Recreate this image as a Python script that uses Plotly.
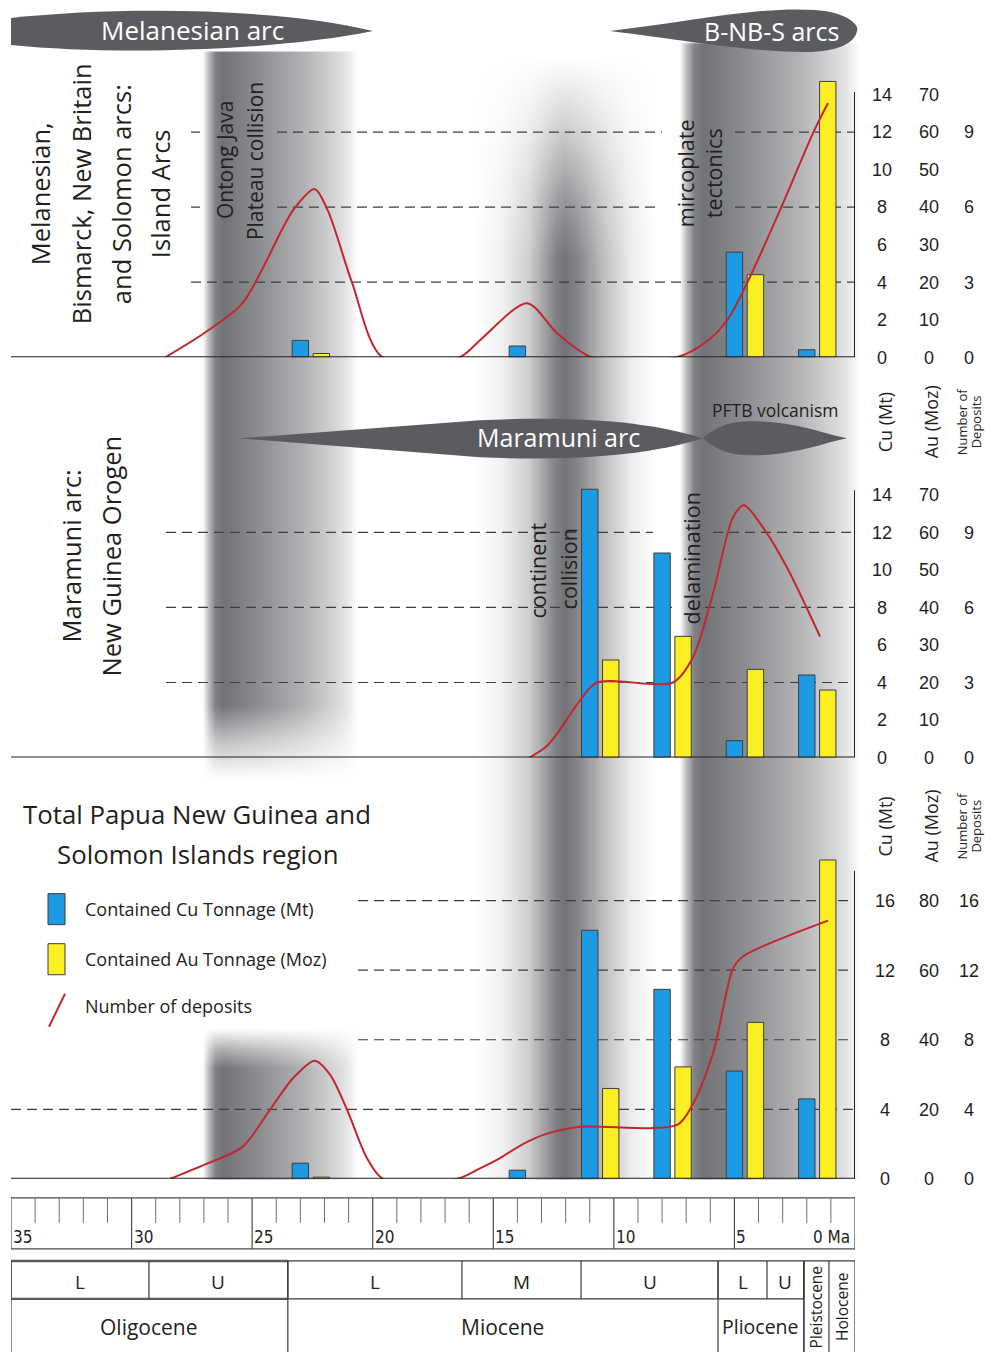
import base64
import struct
import zlib

import numpy as np
import plotly.graph_objects as go

# layout frame: positions below are given on a 985 x 1352 grid,
# the figure itself is laid out a little taller
W, H = 985, 1352
FIG_W, FIG_H = 985, 1363

# ------------------------------------------------------------------ data
# age bins (Ma) of the deposit groups
bin_age = [23, 14, 11, 8, 5, 2]

# Melanesian, Bismarck, New Britain and Solomon arcs
arc_cu = [0.9, 0.6, None, None, 5.6, 0.4]          # contained Cu (Mt)
arc_au = [1.0, None, None, None, 22.0, 73.5]        # contained Au (Moz)
arc_dep_age = [28.6, 27.0, 25.4, 23.3, 22.4, 21.85, 20.85, 19.6, 16.4, 15.55,
               13.6, 12.35, 10.9, 7.4, 6.25, 5.3, 4.48, 3.11, 1.74, 1.12]
arc_dep_n = [0, 0.96, 2.16, 5.88, 6.72, 5.84, 2.96, 0, 0, 0.68,
             2.16, 0.96, 0, 0, 0.56, 1.48, 2.96, 5.88, 8.96, 10.16]

# Maramuni arc: New Guinea Orogen
mar_cu = [None, None, 14.3, 10.9, 0.9, 4.4]
mar_au = [None, None, 26.0, 32.3, 23.5, 18.0]
mar_dep_age = [13.5, 12.85, 12.35, 11.5, 10.7, 7.55, 6.72, 5.89, 5.06, 4.6,
               3.82, 2.82, 1.45]
mar_dep_n = [0, 0.4, 0.96, 2.16, 3.0, 3.0, 4.0, 6.56, 9.6, 10.08,
             9.2, 7.6, 4.84]

# Total Papua New Guinea and Solomon Islands region
tot_cu = [0.9, 0.5, 14.3, 10.9, 6.2, 4.6]
tot_au = [0.5, None, 26.0, 32.2, 45.0, 91.7]
tot_dep_age = [28.4, 26.9, 25.4, 24.25, 23.3, 22.4, 21.77, 21.07, 20.24, 19.57,
               16.5, 15.55, 14.72, 13.77, 12.77, 11.4, 7.38, 6.72, 5.89, 5.06,
               4.64, 1.12]
tot_dep_n = [0, 0.86, 1.84, 4.0, 5.8, 6.8, 6.0, 4.0, 1.2, 0,
             0, 0.6, 1.2, 2.0, 2.6, 3.0, 3.1, 4.3, 7.2, 12.1,
             12.8, 14.85]

# right-hand scales
cu_ticks_a = [0, 2, 4, 6, 8, 10, 12, 14]
au_ticks_a = [0, 10, 20, 30, 40, 50, 60, 70]
dep_ticks_a = [0, 3, 6, 9]
cu_ticks_b = [0, 4, 8, 12, 16]
au_ticks_b = [0, 20, 40, 60, 80]
dep_ticks_b = [0, 4, 8, 12, 16]

# time scale
time_ticks = [35, 30, 25, 20, 15, 10, 5, 0]
time_labels = ["35", "30", "25", "20", "15", "10", "5", "0 Ma"]
sub_epochs = ["L", "U", "L", "M", "U", "L", "U"]
sub_epoch_bounds = [35, 29.28, 23.52, 16.3, 11.36, 5.68, 3.65, 2.12]
epochs = ["Oligocene", "Miocene", "Pliocene"]
epoch_bounds = [35, 23.52, 5.68, 2.12]
stages = ["Pleistocene", "Holocene"]
stage_bounds = [2.12, 1.08, 0]

# ------------------------------------------------------------------ style
TXT = "Open Sans, Noto Sans, DejaVu Sans, sans-serif"
NUM = "Liberation Sans, Arial, sans-serif"
NARROW = "Liberation Sans Narrow, DejaVu Sans Condensed, Liberation Sans, sans-serif"
INK = "#231f20"
BLUE = "#1c9ae3"
YELLOW = "#f9ef23"
RED = "#c1272d"
EDGE = "#3d3d3f"
ARC = "#5b5c5f"
DASH = "#3e3e40"

AGE_MAX, AGE_MIN = 35, 0
X_DOM = (11 / W, 855 / W)
BAR_W = 0.68
PAIR_STEP = 0.87
AU_RATIO = 5


def fx(px):
    return px / W


def fy(py):
    return 1 - py / H


def ma_from_px(px):
    frac = (np.asarray(px, dtype=float) / W - X_DOM[0]) / (X_DOM[1] - X_DOM[0])
    return AGE_MAX + frac * (AGE_MIN - AGE_MAX)


def pad(v):
    s = str(v)
    return "\u00a0" + s if len(s) == 1 else s


panels = [
    dict(cu=arc_cu, au=arc_au, dep_age=arc_dep_age, dep=arc_dep_n,
         base=357, top=40, ppu=18.75, dep_ratio=0.75, axis_top=92,
         cu_ticks=cu_ticks_a, au_ticks=au_ticks_a, dep_ticks=dep_ticks_a,
         cu_col=873,
         dashes=[(12, [(191, 200), (277, 662), (735, 855)]),
                 (8, [(191, 200), (277, 657), (735, 855)]),
                 (4, [(191, 855)])]),
    dict(cu=mar_cu, au=mar_au, dep_age=mar_dep_age, dep=mar_dep_n,
         base=757, top=460, ppu=18.75, dep_ratio=0.75, axis_top=490,
         cu_ticks=cu_ticks_a, au_ticks=au_ticks_a, dep_ticks=dep_ticks_a,
         cu_col=873,
         dashes=[(12, [(166, 653), (713, 855)]),
                 (8, [(166, 676), (705, 855)]),
                 (4, [(166, 855)])]),
    dict(cu=tot_cu, au=tot_au, dep_age=tot_dep_age, dep=tot_dep_n,
         base=1178, top=780, ppu=17.375, dep_ratio=1.0, axis_top=870,
         cu_ticks=cu_ticks_b, au_ticks=au_ticks_b, dep_ticks=dep_ticks_b,
         cu_col=876,
         dashes=[(16, [(358, 855)]), (12, [(358, 855)]),
                 (8, [(358, 855)]), (4, [(11, 855)])]),
]

AU_COL, DEP_COL = 920, 960
LABEL_PAD = 2

fig = go.Figure()
layout_axes = {
    "xaxis": dict(domain=list(X_DOM), range=[AGE_MAX, AGE_MIN], visible=False,
                  fixedrange=True)
}
shapes = []
annotations = []

tick_font = dict(family=NUM, size=18, color=INK)

for i, p in enumerate(panels):
    cu_id = "y" if i == 0 else f"y{i + 1}"
    au_id = f"y{i + 4}"
    dep_id = f"y{i + 7}"
    cu_top = (p["base"] - p["top"]) / p["ppu"]

    fig.add_trace(go.Bar(
        x=bin_age, y=p["cu"], width=BAR_W, offset=-BAR_W / 2,
        marker=dict(color=BLUE, line=dict(color=EDGE, width=1)),
        xaxis="x", yaxis=cu_id, showlegend=False, hoverinfo="skip"))
    fig.add_trace(go.Bar(
        x=bin_age, y=p["au"], width=BAR_W, offset=-BAR_W / 2 - PAIR_STEP,
        marker=dict(color=YELLOW, line=dict(color=EDGE, width=1)),
        xaxis="x", yaxis=au_id, showlegend=False, hoverinfo="skip"))
    fig.add_trace(go.Scatter(
        x=p["dep_age"], y=p["dep"], mode="lines",
        line=dict(color=RED, width=2, shape="spline", smoothing=0.8),
        xaxis="x", yaxis=dep_id, showlegend=False, hoverinfo="skip"))

    common = dict(anchor="free", side="right", showgrid=False, zeroline=False,
                  showline=False, ticks="", tickfont=tick_font, tickmode="array",
                  fixedrange=True)
    layout_axes["yaxis" if i == 0 else f"yaxis{i + 1}"] = dict(
        domain=[fy(p["base"]), fy(p["top"])], range=[0, cu_top],
        position=fx(p["cu_col"] - LABEL_PAD),
        tickvals=p["cu_ticks"], ticktext=[pad(v) for v in p["cu_ticks"]], **common)
    layout_axes[f"yaxis{i + 4}"] = dict(
        overlaying=cu_id, range=[0, cu_top * AU_RATIO],
        position=fx(AU_COL - LABEL_PAD),
        tickvals=p["au_ticks"], ticktext=[pad(v) for v in p["au_ticks"]], **common)
    layout_axes[f"yaxis{i + 7}"] = dict(
        overlaying=cu_id, range=[0, cu_top * p["dep_ratio"]],
        position=fx(DEP_COL - LABEL_PAD),
        tickvals=p["dep_ticks"], ticktext=[pad(v) for v in p["dep_ticks"]], **common)

    # dashed reference levels
    for level, segs in p["dashes"]:
        for a, b in segs:
            shapes.append(dict(type="line", xref="x", yref=cu_id,
                               x0=float(ma_from_px(a)), x1=float(ma_from_px(b)),
                               y0=level, y1=level, layer="below",
                               line=dict(color=DASH, width=1.2, dash="10px,6px")))
    # baseline and right-hand axis line
    shapes.append(dict(type="line", xref="x", yref=cu_id, x0=AGE_MAX, x1=AGE_MIN,
                       y0=0, y1=0, layer="above", line=dict(color=INK, width=2.2)))
    shapes.append(dict(type="line", xref="x", yref=cu_id, x0=AGE_MIN, x1=AGE_MIN,
                       y0=0, y1=(p["base"] - p["axis_top"]) / p["ppu"],
                       layer="above", line=dict(color=INK, width=2)))

# ------------------------------------------------------------------ shaded tectonic bands
cols = ma_from_px(np.arange(W) + 0.5)
rows = np.arange(H) + 0.5
DARK = np.array([114, 115, 119], dtype=float)

edge_profile = ([0, 0.035, 0.08, 0.13, 0.4, 0.65, 0.85, 0.93, 1.0],
                [0, 0.45, 0.9, 1.0, 0.78, 0.55, 0.3, 0.18, 0])
mid_profile = ([0, 0.15, 0.3, 0.45, 0.5, 0.58, 0.72, 0.86, 1.0],
               [0, 0.1, 0.35, 0.9, 1.0, 0.85, 0.45, 0.15, 0])

bands = [
    # (older edge Ma, younger edge Ma, horizontal profile, vertical mask stops)
    (27.04, 20.61, edge_profile,
     ([51, 52, 705, 740, 778, 1028, 1050, 1068, 1178, 1179],
      [0, 1, 1, 0.45, 0, 0, 0.6, 1, 1, 0])),
    (15.76, 8.29, mid_profile,
     ([58, 120, 200, 260, 1178, 1179], [0, 0.3, 0.75, 1, 1, 0])),
    (7.26, -0.21, edge_profile,
     ([42, 44, 1178, 1179], [0, 1, 1, 0])),
]

dark = np.zeros((H, W))
for old, young, (us, ds), (ys, ms) in bands:
    u = (old - cols) / (old - young)
    d_col = np.where((u >= 0) & (u <= 1), np.interp(u, us, ds), 0.0)
    m_row = np.interp(rows, ys, ms, left=0, right=0)
    dark = np.maximum(dark, np.outer(m_row, d_col))

img = 255 - dark[:, :, None] * (255 - DARK[None, None, :])
img = np.clip(np.round(img), 0, 255).astype(np.uint8)


def png_bytes(rgb):
    h, w, _ = rgb.shape
    raw = np.concatenate([np.zeros((h, 1), np.uint8), rgb.reshape(h, w * 3)], axis=1)

    def chunk(tag, data):
        return (struct.pack(">I", len(data)) + tag + data
                + struct.pack(">I", zlib.crc32(tag + data) & 0xFFFFFFFF))

    ihdr = struct.pack(">IIBBBBB", w, h, 8, 2, 0, 0, 0)
    return (b"\x89PNG\r\n\x1a\n" + chunk(b"IHDR", ihdr)
            + chunk(b"IDAT", zlib.compress(raw.tobytes(), 9)) + chunk(b"IEND", b""))


band_src = "data:image/png;base64," + base64.b64encode(png_bytes(img)).decode()

# ------------------------------------------------------------------ arc banners


def path_px(segments):
    out = []
    for cmd, pts in segments:
        out.append(cmd + " " + " ".join(f"{fx(x):.5f},{fy(y):.5f}" for x, y in pts))
    return " ".join(out) + " Z"


banner_paths = [
    [("M", [(11, 18)]), ("C", [(120, 6), (280, 8), (373, 31)]),
     ("C", [(280, 50), (120, 56), (11, 45)])],
    [("M", [(610, 31)]), ("C", [(690, 22), (760, 6), (815, 10)]),
     ("C", [(845, 12), (860, 24), (857, 31)]),
     ("C", [(855, 42), (840, 52), (805, 52)]),
     ("C", [(750, 52), (690, 41), (610, 31)])],
    [("M", [(239, 438)]), ("L", [(480, 420)]),
     ("C", [(600, 414), (665, 426), (703, 438)]),
     ("C", [(665, 450), (600, 462), (480, 457)])],
    [("M", [(703, 438)]), ("C", [(716, 427), (728, 421), (752, 421)]),
     ("C", [(795, 421), (822, 433), (847, 438)]),
     ("C", [(822, 443), (795, 455), (752, 455)]),
     ("C", [(728, 455), (716, 449), (703, 438)])],
]
for segs in banner_paths:
    shapes.append(dict(type="path", xref="paper", yref="paper", path=path_px(segs),
                       fillcolor=ARC, line=dict(width=0), layer="above"))

# ------------------------------------------------------------------ time scale
T_TOP, T_BOT, T_MINOR = 1197, 1248, 1222
G_TOP, G_MID, G_BOT = 1260, 1298, H
SCALE_LINE = dict(color="#4a4a4c", width=1.2)


def vseg(age, y0, y1, line):
    shapes.append(dict(type="line", xref="x", yref="paper", x0=age, x1=age,
                       y0=fy(y0), y1=fy(y1), line=line, layer="above"))


def hseg(a0, a1, y, line):
    shapes.append(dict(type="line", xref="x", yref="paper", x0=a0, x1=a1,
                       y0=fy(y), y1=fy(y), line=line, layer="above"))


hseg(AGE_MAX, AGE_MIN, T_TOP, SCALE_LINE)
hseg(AGE_MAX, AGE_MIN, T_BOT, SCALE_LINE)
for age in range(AGE_MIN, AGE_MAX + 1):
    vseg(age, T_TOP, T_BOT if age % 5 == 0 else T_MINOR,
         SCALE_LINE if age % 5 == 0 else dict(color="#6d6e71", width=1))
for age, lab in zip(time_ticks, time_labels):
    right = age == AGE_MIN
    annotations.append(dict(text=lab, xref="x", yref="paper", x=age, y=fy(1236),
                            xanchor="right" if right else "left", yanchor="middle",
                            xshift=-3 if right else 0, showarrow=False,
                            font=dict(family=NARROW, size=17, color=INK)))

# geological time table
TABLE_LINE = dict(color="#3a3a3c", width=1.2)
hseg(AGE_MAX, AGE_MIN, G_TOP, TABLE_LINE)
hseg(AGE_MAX, sub_epoch_bounds[2], G_TOP, dict(color="#5a5a5c", width=2.4))
hseg(AGE_MAX, stage_bounds[0], G_MID, TABLE_LINE)
hseg(AGE_MAX, sub_epoch_bounds[2], G_MID, dict(color="#5a5a5c", width=2.2))
for b in sub_epoch_bounds:
    vseg(b, G_TOP, G_MID, TABLE_LINE)
for b in epoch_bounds + stage_bounds:
    vseg(b, G_TOP, G_BOT, TABLE_LINE)
for lab, a0, a1 in zip(sub_epochs, sub_epoch_bounds[:-1], sub_epoch_bounds[1:]):
    annotations.append(dict(text=lab, xref="x", yref="paper", x=(a0 + a1) / 2,
                            y=fy(1281), xanchor="center", yanchor="middle",
                            showarrow=False,
                            font=dict(family=TXT, size=19, color=INK)))
for lab, a0, a1 in zip(epochs, epoch_bounds[:-1], epoch_bounds[1:]):
    annotations.append(dict(text=lab, xref="x", yref="paper", x=(a0 + a1) / 2,
                            y=fy(1326), xanchor="center", yanchor="middle",
                            showarrow=False,
                            font=dict(family=TXT, size=21 if lab != "Pliocene" else 19.5,
                                      color=INK)))
for lab, a0, a1 in zip(stages, stage_bounds[:-1], stage_bounds[1:]):
    annotations.append(dict(text=lab, xref="x", yref="paper", x=(a0 + a1) / 2,
                            y=fy(1306), xanchor="center", yanchor="middle",
                            showarrow=False, textangle=-90,
                            font=dict(family=TXT, size=15.5, color=INK)))

# ------------------------------------------------------------------ legend
shapes.append(dict(type="rect", xref="paper", yref="paper", x0=fx(48), x1=fx(65),
                   y0=fy(924), y1=fy(893), fillcolor=BLUE,
                   line=dict(color=EDGE, width=1), layer="above"))
shapes.append(dict(type="rect", xref="paper", yref="paper", x0=fx(48), x1=fx(65),
                   y0=fy(974), y1=fy(943), fillcolor=YELLOW,
                   line=dict(color=EDGE, width=1), layer="above"))
shapes.append(dict(type="line", xref="paper", yref="paper", x0=fx(49), x1=fx(65),
                   y0=fy(1026), y1=fy(993), line=dict(color=RED, width=2),
                   layer="above"))


def label(text, x, y, size, color=INK, angle=0, family=TXT, xanchor="center"):
    annotations.append(dict(text=text, xref="paper", yref="paper", x=fx(x), y=fy(y),
                            xanchor=xanchor, yanchor="middle", showarrow=False,
                            textangle=angle, font=dict(family=family, size=size,
                                                       color=color)))


label("Contained Cu Tonnage (Mt)", 83, 908, 18, xanchor="left")
label("Contained Au Tonnage (Moz)", 83, 958, 18, xanchor="left")
label("Number of deposits", 83, 1005, 18, xanchor="left")

# ------------------------------------------------------------------ titles and notes
label("Melanesian arc", 192, 30, 26, color="white")
label("B-NB-S arcs", 771, 31, 25, color="white")
label("Maramuni arc", 558, 437, 25, color="white")
label("PFTB volcanism", 775, 410, 17.5)

for txt, x in [("Melanesian,", 40), ("Bismarck, New Britain", 81),
               ("and Solomon arcs:", 121), ("Island Arcs", 160)]:
    label(txt, x, 194, 25.5, angle=-90)
label("Maramuni arc:", 71, 556, 25.5, angle=-90)
label("New Guinea Orogen", 111, 556, 25.5, angle=-90)

label("Total Papua New Guinea and", 197, 813, 25.8)
label("Solomon Islands region", 197, 853, 25.8)

label("Ontong Java", 225, 160, 21, angle=-90)
label("Plateau collision", 255, 161, 21, angle=-90)
label("mircoplate", 685, 173, 21.5, angle=-90)
label("tectonics", 713, 173, 21.5, angle=-90)
label("continent", 537, 570, 21.5, angle=-90)
label("collision", 568, 569, 21.5, angle=-90)
label("delamination", 691, 558, 21.5, angle=-90)

for yc in (422, 826):
    label("Cu (Mt)", 885, yc, 18, angle=-90)
    label("Au (Moz)", 931, yc, 18, angle=-90)
    label("Number of", 962, yc, 13, angle=-90)
    label("Deposits", 976, yc, 13, angle=-90)

fig.update_layout(
    width=FIG_W, height=FIG_H, margin=dict(l=0, r=0, t=0, b=0, pad=0),
    paper_bgcolor="white", plot_bgcolor="rgba(0,0,0,0)",
    barmode="overlay", showlegend=False,
    shapes=shapes, annotations=annotations,
    images=[dict(source=band_src, xref="paper", yref="paper", x=0, y=1,
                 sizex=1, sizey=1, xanchor="left", yanchor="top",
                 sizing="stretch", layer="below")],
    **layout_axes,
)

fig.write_html("out.html", config=dict(displayModeBar=False, staticPlot=True))
